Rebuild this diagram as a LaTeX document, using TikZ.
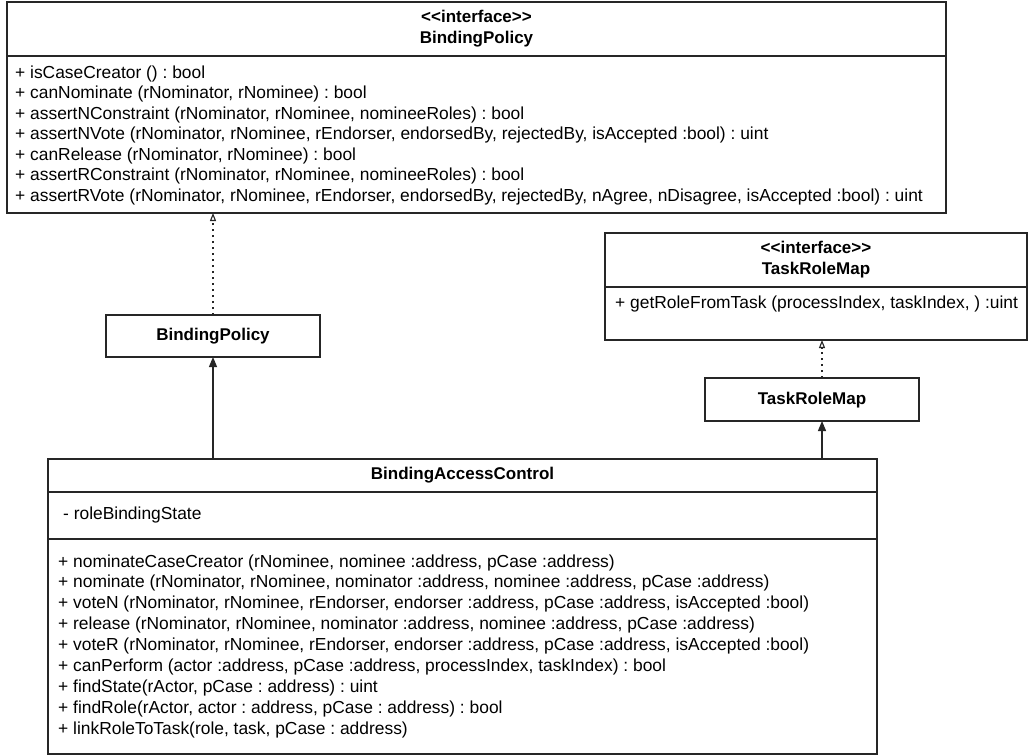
\documentclass[tikz,border=0pt]{standalone}
\usepackage{fontspec}
\setmainfont{Liberation Sans}
\usetikzlibrary{arrows.meta}
\newcommand{\stereo}[1]{<\kern0pt<#1>\kern0pt>}
\begin{document}
\frenchspacing
\begin{tikzpicture}[x=1pt,y=-1pt,
  box/.style={draw=black!85, line width=1.2pt, anchor=north west, inner sep=0pt, outer sep=0pt},
  classbox/.style={box, font=\fontsize{17}{20}\selectfont\bfseries, text height=12pt, text depth=3pt},
  divider/.style={draw=black!85, line width=1.2pt},
  txt/.style={anchor=base west, inner sep=0pt, font=\fontsize{17.4}{20}\selectfont},
  ttl/.style={anchor=base, inner sep=0pt, font=\fontsize{17}{20}\selectfont\bfseries},
  realize/.style={line width=1.2pt, draw=black!85, dash pattern=on 2pt off 4pt, -{Triangle[open, length=8pt, width=6pt, line width=1.1pt]}},
  gen/.style={line width=1.2pt, draw=black!85, -{Triangle[length=10pt, width=8pt]}}]
\useasboundingbox (0,0) rectangle (1028,755);
\fill[white] (0,0) rectangle (1028,755);

% interface BindingPolicy
\node[box, minimum width=939pt, minimum height=211pt] (ibp) at (7,2) {};
\draw[divider] (7,56) -- (946,56);
\node[ttl] (ibpst) at (476.5,22) {\stereo{interface}};
\node[ttl] (ibpname) at (476.5,43) {BindingPolicy};
\foreach \t [count=\i] in {
  {+ isCaseCreator () : bool},
  {+ canNominate (rNominator, rNominee) : bool},
  {+ assertNConstraint (rNominator, rNominee, nomineeRoles) : bool},
  {+ assertNVote (rNominator, rNominee, rEndorser, endorsedBy, rejectedBy, isAccepted :bool) : uint},
  {+ canRelease (rNominator, rNominee) : bool},
  {+ assertRConstraint (rNominator, rNominee, nomineeRoles) : bool},
  {+ assertRVote (rNominator, rNominee, rEndorser, endorsedBy, rejectedBy, nAgree, nDisagree, isAccepted :bool) : uint}}
  \node[txt] (ibpm\i) at (15,{78+(\i-1)*20.5}) {\t};

% class BindingPolicy
\node[classbox, minimum width=214pt, minimum height=42pt, anchor=north west] (bpc) at (106,315) {BindingPolicy};

% interface TaskRoleMap
\node[box, minimum width=422pt, minimum height=107pt] (itr) at (605,233) {};
\draw[divider] (605,287) -- (1027,287);
\node[ttl] (itrst) at (816,253) {\stereo{interface}};
\node[ttl] (itrname) at (816,274) {TaskRoleMap};
\node[txt] (itrm1) at (615,308) {+ getRoleFromTask (processIndex, taskIndex, ) :uint};

% class TaskRoleMap
\node[classbox, minimum width=214pt, minimum height=43pt] (trc) at (705,378) {TaskRoleMap};

% class BindingAccessControl
\node[box, minimum width=829pt, minimum height=295pt] (bac) at (48,459) {};
\draw[divider] (48,492) -- (877,492);
\draw[divider] (48,539) -- (877,539);
\node[ttl] (bacname) at (462.5,479) {BindingAccessControl};
\node[txt] (bacattr) at (63,519) {- roleBindingState};
\foreach \t [count=\i] in {
  {+ nominateCaseCreator (rNominee, nominee :address, pCase :address)},
  {+ nominate (rNominator, rNominee, nominator :address, nominee :address, pCase :address)},
  {+ voteN (rNominator, rNominee, rEndorser, endorser :address, pCase :address, isAccepted :bool)},
  {+ release (rNominator, rNominee, nominator :address, nominee :address, pCase :address)},
  {+ voteR (rNominator, rNominee, rEndorser, endorser :address, pCase :address, isAccepted :bool)},
  {+ canPerform (actor :address, pCase :address, processIndex, taskIndex) : bool},
  {+ findState(rActor, pCase : address) : uint},
  {+ findRole(rActor, actor : address, pCase : address) : bool},
  {+ linkRoleToTask(role, task, pCase : address)}}
  \node[txt] (bacm\i) at (58,{567+(\i-1)*20.9}) {\t};

% connectors
\draw[realize] (bpc.north) -- (bpc.north |- ibp.south);
\draw[gen] (bpc.south |- bac.north) -- (bpc.south);
\coordinate (trtop) at ([xshift=10pt]trc.north);
\coordinate (trbot) at ([xshift=10pt]trc.south);
\draw[realize] (trtop) -- (trtop |- itr.south);
\draw[gen] (trbot |- bac.north) -- (trbot);
\end{tikzpicture}
\end{document}
